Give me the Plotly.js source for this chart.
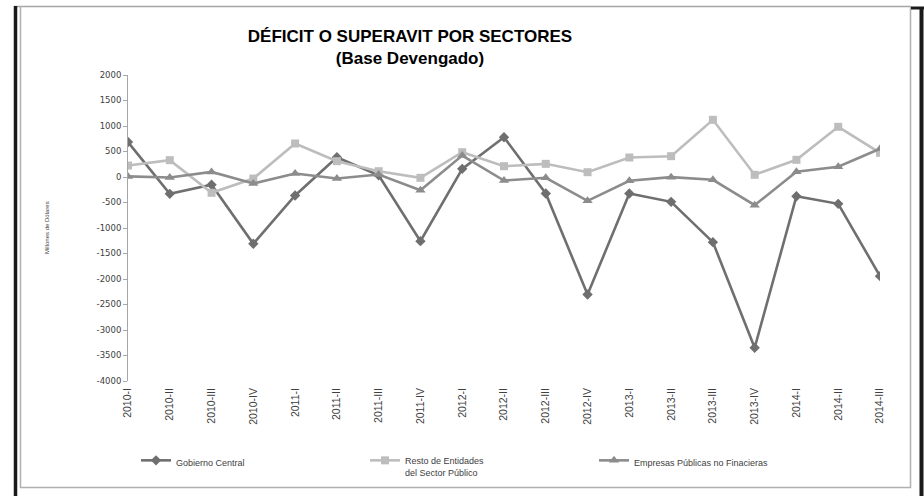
<!DOCTYPE html>
<html>
<head>
<meta charset="utf-8">
<script src="https://cdn.plot.ly/plotly-3.0.1.min.js"></script>
<style>
  html, body { margin: 0; padding: 0; background: #ffffff; }
  #chart { width: 924px; height: 496px; }
</style>
</head>
<body>
<div id="chart"></div>
<script>
// ---- Data ----
var categories = ["2010-I","2010-II","2010-III","2010-IV","2011-I","2011-II","2011-III","2011-IV",
                  "2012-I","2012-II","2012-III","2012-IV","2013-I","2013-II","2013-III","2013-IV",
                  "2014-I","2014-II","2014-III"];
var gobiernoCentral = [685, -330, -153, -1310, -363, 388, 35, -1258, 160, 780, -323, -2303, -323, -487, -1277, -3348, -376, -526, -1944];
var restoEntidades  = [225, 330, -310, -30, 657, 310, 114, -16, 486, 212, 258, 94, 382, 408, 1121, 43, 337, 984, 474];
var empresasPublicas = [12, -10, 100, -127, 69, -29, 49, -258, 421, -69, -16, -467, -75, -3, -55, -552, 102, 200, 553];
var seriesNames = ["Gobierno Central", "Resto de Entidades<br>del Sector Público", "Empresas Públicas no Finacieras"];
var yTickVals = [-4000,-3500,-3000,-2500,-2000,-1500,-1000,-500,0,500,1000,1500,2000];
var yTickText = ["-4000","-3500","-3000","-2500","-2000","-1500","-1000","-500","0","500","1000","1500","2000"];

// ---- Layout geometry ----
var W = 924, H = 496;
var mL = 128, mR = 44, mT = 75, mB = 115;
var pw = W - mL - mR, ph = H - mT - mB;
function px(x) { return (x - mL) / pw; }
function py(y) { return (H - mB - y) / ph; }

var tickFont = { family: "DejaVu Sans, Verdana, sans-serif", size: 8.5, color: "#404040" };
var xFont = { family: "Liberation Sans, Arial, sans-serif", size: 10.5, color: "#404040" };

var traces = [
  { x: categories, y: gobiernoCentral, name: seriesNames[0], type: "scatter", mode: "lines+markers",
    line: { color: "#6f6f6f", width: 2.6 }, marker: { symbol: "diamond", size: 8, color: "#6f6f6f" } },
  { x: categories, y: restoEntidades, name: seriesNames[1], type: "scatter", mode: "lines+markers",
    line: { color: "#bdbdbd", width: 2.6 }, marker: { symbol: "square", size: 8, color: "#bdbdbd" } },
  { x: categories, y: empresasPublicas, name: seriesNames[2], type: "scatter", mode: "lines+markers",
    line: { color: "#8c8c8c", width: 2.6 }, marker: { symbol: "triangle-up", size: 9, color: "#8c8c8c" } }
];

function ln(x0, y0, x1, y1, color, width) {
  return { type: "line", xref: "paper", yref: "paper", x0: px(x0), y0: py(y0), x1: px(x1), y1: py(y1),
           line: { color: color, width: width }, layer: "above" };
}

var layout = {
  width: W, height: H,
  margin: { l: mL, r: mR, t: mT, b: mB, pad: 0, autoexpand: false },
  paper_bgcolor: "#ffffff", plot_bgcolor: "#ffffff",
  showlegend: true,
  title: {
    text: "DÉFICIT O SUPERAVIT POR SECTORES<br>(Base Devengado)",
    font: { family: "Liberation Sans, Arial, sans-serif", size: 17, color: "#000000", weight: "bold" },
    xref: "container", yref: "container", x: 410 / W, xanchor: "center", y: 1 - 42 / H, yanchor: "top"
  },
  xaxis: {
    type: "category", categoryarray: categories, categoryorder: "array",
    range: [0, categories.length - 1], showgrid: false, zeroline: false, showline: false,
    ticks: "", tickangle: -90, tickfont: xFont, fixedrange: true, automargin: false,
    ticklabelstandoff: 4
  },
  xaxis2: {
    overlaying: "x", anchor: "free", position: py(177.5), type: "linear",
    range: [0, categories.length - 1], tickmode: "linear", tick0: 0, dtick: 1,
    showline: true, linecolor: "#bfbfbf", linewidth: 1, ticks: "outside", ticklen: 4,
    tickcolor: "#bfbfbf", showticklabels: false, showgrid: false, zeroline: false
  },
  yaxis: {
    range: [-4000, 2000], tickmode: "array", tickvals: yTickVals, ticktext: yTickText,
    showgrid: false, zeroline: false, automargin: false,
    showline: true, linecolor: "#a6a6a6", linewidth: 1, ticks: "outside", ticklen: 4, tickcolor: "#a6a6a6",
    tickfont: tickFont
  },
  legend: {
    orientation: "h", xref: "paper", yref: "paper", x: px(136), y: py(448), xanchor: "left", yanchor: "top",
    entrywidth: 184, entrywidthmode: "pixels", valign: "top", itemwidth: 30,
    font: { family: "Liberation Sans, Arial, sans-serif", size: 9, color: "#404040" },
    bgcolor: "rgba(0,0,0,0)"
  },
  annotations: [
    { text: "Millones de Dólares", xref: "paper", yref: "paper", x: px(42), y: 0.5, textangle: -90,
      showarrow: false, font: { family: "Liberation Sans Narrow, Liberation Sans, Arial", size: 6, color: "#404040" } }
  ],
  shapes: [
    ln(14, 6.5, 911, 6.5, "#a6a6a6", 1.5),
    ln(20.5, 6, 20.5, 488, "#b0b0b0", 1.5),
    ln(910.5, 6, 910.5, 488, "#b0b0b0", 1.5),
    ln(20, 487.5, 911, 487.5, "#b0b0b0", 1.5),
    ln(15.5, 6, 15.5, 496, "#1a1a1a", 3.5),
    ln(921.5, 7, 921.5, 496, "#1a1a1a", 4),
    ln(911, 8, 924, 8, "#1a1a1a", 3)
  ]
};

Plotly.newPlot("chart", traces, layout, { staticPlot: true, displayModeBar: false });
</script>
</body>
</html>
